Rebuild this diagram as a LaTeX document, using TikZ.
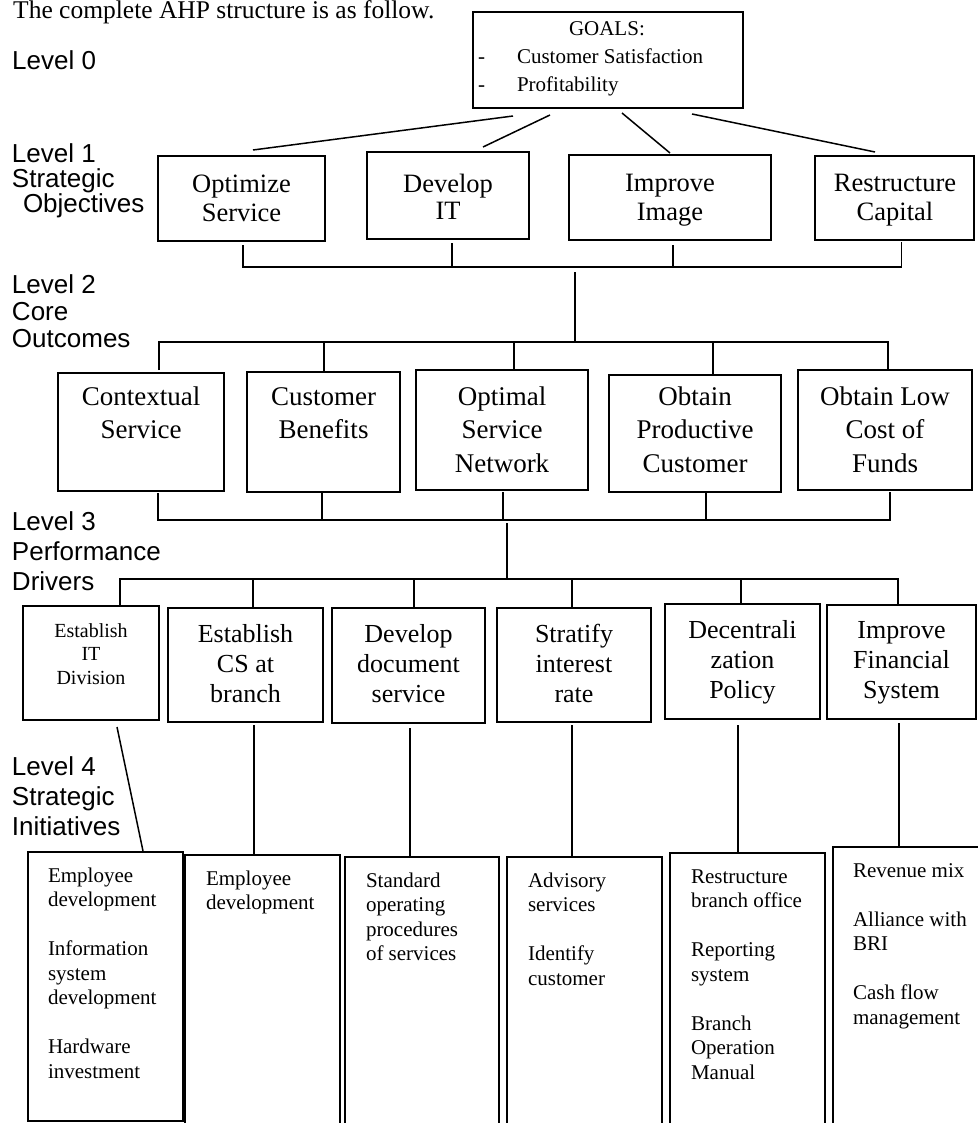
\documentclass[tikz,border=0pt]{standalone}
\usepackage{fontspec}
\setmainfont{Liberation Serif}
\newfontfamily\lsans{Liberation Sans}
\usetikzlibrary{calc}
\newcommand\myfst{\rule{0pt}{\baselineskip}}
\tikzset{
  fs/.style 2 args={font=\fontsize{#1}{#2}\selectfont},
  box/.style={draw, line width=1.5pt, rectangle, inner sep=0pt, outer sep=0pt, anchor=north west},
  ctxt/.style={inner sep=0pt, outer sep=0pt, align=center, anchor=north},
  ltxt/.style={inner sep=0pt, outer sep=0pt, align=left, anchor=north west},
  lvl/.style 2 args={inner sep=0pt, outer sep=0pt, align=left, anchor=north west, font=\lsans\fontsize{#1}{#2}\selectfont},
  conn/.style={line width=1.5pt},
}
\begin{document}
\begin{tikzpicture}[x=1pt,y=-1pt]
\fill[white] (0,0) rectangle (977,1123);
\useasboundingbox (0,0) rectangle (977,1123);

\node[inner sep=0pt, anchor=base west, fs={25.5}{30}] (title) at (13,19) {The complete AHP structure is as follow.};

% level labels
\node[inner sep=0pt, anchor=base west, font=\lsans\fontsize{26}{30}\selectfont] (lv0) at (12,70) {Level 0};
\node[lvl={26}{25}] (lv1) at (12,138) {\myfst Level 1\\Strategic\\\hspace*{11pt}Objectives};
\node[lvl={26}{27}] (lv2) at (12,266) {\myfst Level 2\\Core\\Outcomes};
\node[lvl={26}{30}] (lv3) at (12,500) {\myfst Level 3\\Performance\\Drivers};
\node[lvl={26}{30}] (lv4) at (12,745) {\myfst Level 4\\Strategic\\Initiatives};

% level 0
\node[box, minimum width=270pt, minimum height=96pt] (g) at (473,12) {};
\node[ltxt, fs={21}{28}] (gt) at (478,8) {\myfst\hspace*{91pt}GOALS:\\\makebox[39pt][l]{-}Customer Satisfaction\\\makebox[39pt][l]{-}Profitability};

% level 1
\node[box, minimum width=167pt, minimum height=85pt] (o1) at (158,156) {};
\node[box, minimum width=162pt, minimum height=87pt] (o2) at (367,152) {};
\node[box, minimum width=202pt, minimum height=85pt] (o3) at (569,155) {};
\node[box, minimum width=159pt, minimum height=84pt] (o4) at (815,156) {};
\node[ctxt, fs={26.5}{29}] (o1t) at (241.5,164) {\myfst Optimize\\Service};
\node[ctxt, fs={26.5}{27}] (o2t) at (448,165) {\myfst Develop\\IT};
\node[ctxt, fs={26.5}{29}] (o3t) at (670,163) {\myfst Improve\\Image};
\node[ctxt, fs={26.5}{29}] (o4t) at (895,163) {\myfst Restructure\\Capital};

\draw[conn] ($(g.south west)+(40,8)$) -- ($(o1.north west)+(95,-6)$);
\draw[conn] ($(g.south west)+(77,7)$) -- ($(o2.north west)+(116,-5)$);
\draw[conn] ($(g.south west)+(149,5)$) -- ($(o3.north west)+(101,-2)$);
\draw[conn] ($(g.south west)+(219,6)$) -- ($(o4.north west)+(60,-4)$);

% bus level 1 -> 2
\coordinate (j1) at (575,267);
\coordinate (j2) at (575,342);
\draw[conn] ($(o1.south)+(1.5,4)$) |- ($(o4.south)+(7,27)$) -- ($(o4.south)+(7,2)$);
\draw[conn] ($(o2.south)+(4,4)$) -- ($(o2.south)+(4,28)$);
\draw[conn] ($(o3.south)+(3,5)$) -- ($(o3.south)+(3,27)$);
\draw[conn] ($(j1)+(0,5)$) -- (j2);

% level 2
\node[box, minimum width=166pt, minimum height=118pt] (c1) at (58,373) {};
\node[box, minimum width=153pt, minimum height=120pt] (c2) at (247,372) {};
\node[box, minimum width=172pt, minimum height=120pt] (c3) at (416,370) {};
\node[box, minimum width=172pt, minimum height=117pt] (c4) at (609,375) {};
\node[box, minimum width=174pt, minimum height=120pt] (c5) at (798,370) {};
\node[ctxt, fs={27}{33.5}] (c1t) at (141,371.5) {\myfst Contextual\\Service};
\node[ctxt, fs={27}{33.5}] (c2t) at (323.5,371.5) {\myfst Customer\\Benefits};
\node[ctxt, fs={27}{33.5}] (c3t) at (502,371.5) {\myfst Optimal\\Service\\Network};
\node[ctxt, fs={27}{33.5}] (c4t) at (695,371.5) {\myfst Obtain\\Productive\\Customer};
\node[ctxt, fs={27}{33.5}] (c5t) at (885,371.5) {\myfst Obtain Low\\Cost of\\Funds};

\draw[conn] ($(c1.north)+(18,-3)$) |- ($(c5.north)+(3,-28)$) -- ($(c5.north)+(3,-1)$);
\draw[conn] ($(c2.north)+(0.5,-1)$) -- ($(c2.north)+(0.5,-30)$);
\draw[conn] ($(c3.north)+(12,-1)$) -- ($(c3.north)+(12,-28)$);
\draw[conn] ($(c4.north)+(18,-1)$) -- ($(c4.north)+(18,-33)$);

% bus level 2 -> 3
\coordinate (j3) at (507,520);
\coordinate (j4) at (507,579);
\draw[conn] ($(c1.south)+(17,2)$) |- ($(c5.south)+(5,30)$) -- ($(c5.south)+(5,2)$);
\draw[conn] ($(c2.south)+(-1.5,1)$) -- ($(c2.south)+(-1.5,28)$);
\draw[conn] ($(c3.south)+(1,2)$) -- ($(c3.south)+(1,30)$);
\draw[conn] ($(c4.south)+(11,1)$) -- ($(c4.south)+(11,28)$);
\draw[conn] ($(j3)+(0,3)$) -- (j4);

% level 3
\node[box, minimum width=136pt, minimum height=114pt] (d1) at (23,606) {};
\node[box, minimum width=155pt, minimum height=114pt] (d2) at (168,608) {};
\node[box, minimum width=153pt, minimum height=115pt] (d3) at (332,608) {};
\node[box, minimum width=154pt, minimum height=114pt] (d4) at (497,608) {};
\node[box, minimum width=155pt, minimum height=115pt] (d5) at (665,604) {};
\node[box, minimum width=149pt, minimum height=114pt] (d6) at (827,605) {};
\node[ctxt, fs={20}{23.5}] (d1t) at (91,613.5) {\myfst Establish\\IT\\Division};
\node[ctxt, fs={26}{30}] (d2t) at (245.5,612) {\myfst Establish\\CS at\\branch};
\node[ctxt, fs={26}{30}] (d3t) at (408.5,612) {\myfst Develop\\document\\service};
\node[ctxt, fs={26}{30}] (d4t) at (574,612) {\myfst Stratify\\interest\\rate};
\node[ctxt, fs={26}{30}] (d5t) at (742.5,608) {\myfst Decentrali\\zation\\Policy};
\node[ctxt, fs={26}{30}] (d6t) at (901.5,608) {\myfst Improve\\Financial\\System};

\draw[conn] ($(d1.north)+(29,-1)$) |- ($(d6.north)+(-3.5,-26)$) -- ($(d6.north)+(-3.5,-1)$);
\draw[conn] ($(d2.north)+(7.5,-1)$) -- ($(d2.north)+(7.5,-29)$);
\draw[conn] ($(d3.north)+(5.5,-1)$) -- ($(d3.north)+(5.5,-29)$);
\draw[conn] ($(d4.north)+(-2,-1)$) -- ($(d4.north)+(-2,-29)$);
\draw[conn] ($(d5.north)+(-1.5,-1)$) -- ($(d5.north)+(-1.5,-25)$);

% level 4
\node[box, minimum width=155pt, minimum height=269pt] (e1) at (28,852) {};
\node[box, minimum width=155pt, minimum height=290pt] (e2) at (185,855) {};
\node[box, minimum width=154pt, minimum height=290pt] (e3) at (345,857) {};
\node[box, minimum width=155pt, minimum height=290pt] (e4) at (507,857) {};
\node[box, minimum width=155pt, minimum height=290pt] (e5) at (670,853) {};
\node[box, minimum width=160pt, minimum height=290pt] (e6) at (833,847) {};

\node[ltxt, fs={21}{24.5}] (e1t) at (48,857.5) {\myfst Employee\\development\\ \\Information\\system\\development\\ \\Hardware\\investment};
\node[ltxt, fs={21}{24.5}] (e2t) at (206,860.5) {\myfst Employee\\development};
\node[ltxt, fs={21}{24.5}] (e3t) at (366,862.5) {\myfst Standard\\operating\\procedures\\of services};
\node[ltxt, fs={21}{24.5}] (e4t) at (528,862.5) {\myfst Advisory\\services\\ \\Identify\\customer};
\node[ltxt, fs={21}{24.5}] (e5t) at (691,858.5) {\myfst Restructure\\branch office\\ \\Reporting\\system\\ \\Branch\\Operation\\Manual};
\node[ltxt, fs={21}{24.5}] (e6t) at (853,852.5) {\myfst Revenue mix\\ \\Alliance with\\BRI\\ \\Cash flow\\management};

\draw[conn] ($(d1.south)+(26,7)$) -- ($(e1.north)+(37.5,-1)$);
\draw[conn] ($(d2.south)+(8.5,3)$) -- ($(e2.north)+(-8.5,0)$);
\draw[conn] ($(d3.south)+(1.5,5)$) -- ($(e3.north)+(-12,0)$);
\draw[conn] ($(d4.south)+(-2,3)$) -- ($(e4.north)+(-12.5,0)$);
\draw[conn] ($(d5.south)+(-4.5,6)$) -- ($(e5.north)+(-9.5,0)$);
\draw[conn] ($(d6.south)+(-2.5,4)$) -- ($(e6.north)+(-14,0)$);
\end{tikzpicture}
\end{document}
